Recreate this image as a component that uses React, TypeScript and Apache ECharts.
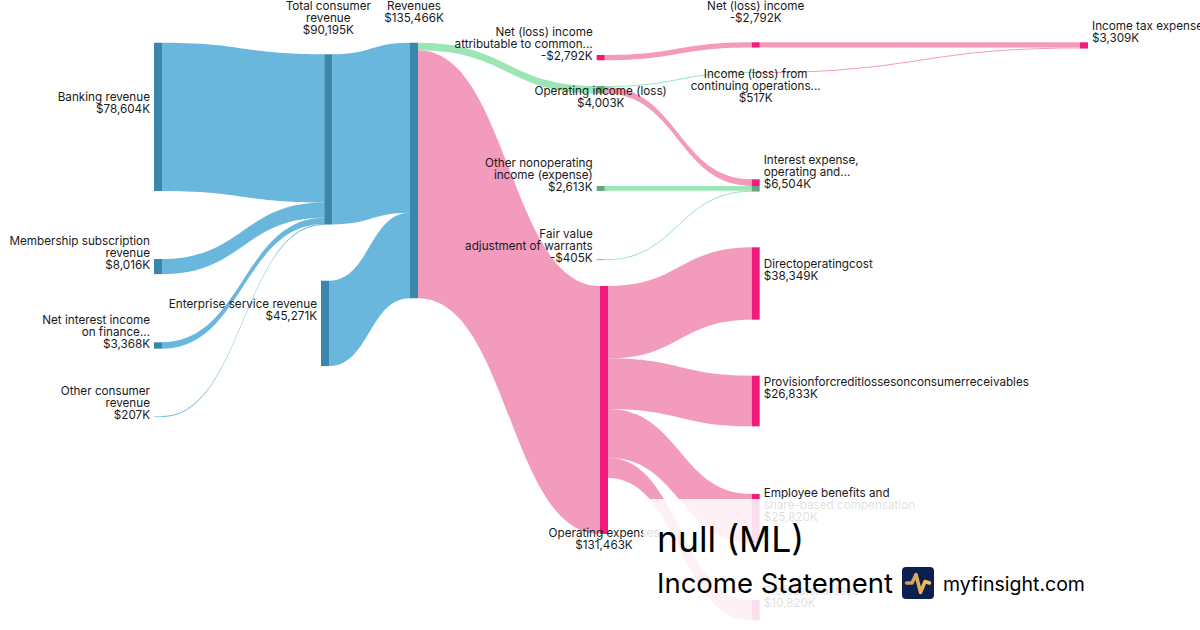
import React, { useEffect, useRef } from 'react';
import * as echarts from 'echarts';

// ---------- DATA ----------
const nodeNames = [
  'Banking revenue',
  'Membership subscription revenue',
  'Net interest income on finance receivables',
  'Other consumer revenue',
  'Total consumer revenue',
  'Enterprise service revenue',
  'Revenues',
  'Net (loss) income attributable to common stockholders',
  'Operating income (loss)',
  'Other nonoperating income (expense)',
  'Fair value adjustment of warrants',
  'Operating expenses',
  'Net (loss) income',
  'Income (loss) from continuing operations before taxes',
  'Interest expense, operating and nonoperating',
  'Directoperatingcost',
  'Provisionforcreditlossesonconsumerreceivables',
  'Employee benefits and share-based compensation',
  'Professional fees',
  'Income tax expense',
];

const nodeLabelLines = [
  'Banking revenue',
  'Membership subscription\nrevenue',
  'Net interest income\non finance...',
  'Other consumer\nrevenue',
  'Total consumer\nrevenue',
  'Enterprise service revenue',
  'Revenues',
  'Net (loss) income\nattributable to common...',
  'Operating income (loss)',
  'Other nonoperating\nincome (expense)',
  'Fair value\nadjustment of warrants',
  'Operating expenses',
  'Net (loss) income',
  'Income (loss) from\ncontinuing operations...',
  'Interest expense,\noperating and...',
  'Directoperatingcost',
  'Provisionforcreditlossesonconsumerreceivables',
  'Employee benefits and\nshare-based compensation',
  'Professional fees',
  'Income tax expense',
];

// reported values, $K
const nodeValuesK = [
  78604, 8016, 3368, 207, 90195, 45271, 135466, -2792, 4003, 2613, -405, 131463,
  -2792, 517, 6504, 38349, 26833, 25820, 10820, 3309,
];

const nodeDepths = [0, 0, 0, 0, 1, 1, 2, 3, 3, 3, 3, 3, 4, 4, 4, 4, 4, 4, 4, 5];

const linkSources = [
  'Banking revenue',
  'Membership subscription revenue',
  'Net interest income on finance receivables',
  'Other consumer revenue',
  'Total consumer revenue',
  'Enterprise service revenue',
  'Revenues',
  'Revenues',
  'Net (loss) income attributable to common stockholders',
  'Operating income (loss)',
  'Operating income (loss)',
  'Other nonoperating income (expense)',
  'Fair value adjustment of warrants',
  'Operating expenses',
  'Operating expenses',
  'Operating expenses',
  'Operating expenses',
  'Net (loss) income',
  'Income (loss) from continuing operations before taxes',
];
const linkTargets = [
  'Total consumer revenue',
  'Total consumer revenue',
  'Total consumer revenue',
  'Total consumer revenue',
  'Revenues',
  'Revenues',
  'Operating income (loss)',
  'Operating expenses',
  'Net (loss) income',
  'Income (loss) from continuing operations before taxes',
  'Interest expense, operating and nonoperating',
  'Interest expense, operating and nonoperating',
  'Interest expense, operating and nonoperating',
  'Directoperatingcost',
  'Provisionforcreditlossesonconsumerreceivables',
  'Employee benefits and share-based compensation',
  'Professional fees',
  'Income tax expense',
  'Income tax expense',
];
const linkValues = [
  78604, 8016, 3368, 207, 90195, 45271, 4003, 131463, 2792, 517, 3486, 2613, 405,
  38349, 26833, 25820, 10820, 2792, 517,
];
const linkKinds = [
  'rev', 'rev', 'rev', 'rev', 'rev', 'rev', 'profit', 'cost', 'cost', 'profit', 'cost',
  'profit', 'profit', 'cost', 'cost', 'cost', 'cost', 'cost', 'cost',
];

// ---------- STYLE / LAYOUT ----------
const SERIES_W = 1200;
const SERIES_H = 306.5;
const NODE_GAP = 10;

const nodeLeft = [
  154, 154, 154, 154, 324.3, 321, 410, 596.7, 596.7, 596.7, 596.7, 600, 751.7, 751.7,
  751.7, 751.7, 751.7, 751.7, 751.7, 1080,
];
const nodeTop = [
  42.7, 259, 342.3, 416, 54.3, 280.7, 42.7, 55, 86, 186, 259.3, 286, 42.3, 72, 179.3,
  247.3, 375.7, 494, 600, 42.3,
];
const nodeKinds = [
  'rev', 'rev', 'rev', 'rev', 'rev', 'rev', 'rev', 'cost', 'profit', 'profit', 'profit',
  'cost', 'cost', 'profit', 'split', 'cost', 'cost', 'cost', 'cost', 'cost',
];
const labelPositions = [
  'left', 'left', 'left', 'left', 'top', 'left', 'top', 'left', 'bottom', 'left', 'left',
  'bottom', 'top', 'bottom', 'right', 'right', 'right', 'right', 'right', 'right',
];
const labelOffsetY = [
  -13.5, -13.5, -13.5, -13.5, -13.5, -13.5, -13.5, -13.5, -13.5, -13.5, -13.5, -12,
  -13.5, -10, -13.5, -13.5, -13.5, -13.5, -13.5, -13.5,
];

const linkColors: Record<string, string> = {
  rev: '#69b7dc',
  cost: '#f39bbd',
  profit: '#9be6b4',
};
const nodeColorMap: Record<string, any> = {
  rev: '#3a87ad',
  cost: '#f21b7b',
  profit: '#62a97c',
  split: {
    type: 'linear',
    x: 0,
    y: 0,
    x2: 0,
    y2: 1,
    colorStops: [
      { offset: 0, color: '#f21b7b' },
      { offset: 0.536, color: '#f21b7b' },
      { offset: 0.536, color: '#62a97c' },
      { offset: 1, color: '#62a97c' },
    ],
  },
};

const fmtK = (v: number) =>
  (v < 0 ? '-' : '') + '$' + Math.abs(v).toLocaleString('en-US') + 'K';

const FONT = 'Inter, "Noto Sans", sans-serif';

export default function App() {
  const ref = useRef<HTMLDivElement>(null);

  useEffect(() => {
    if (!ref.current) return;
    const chart = echarts.init(ref.current, undefined, { renderer: 'svg' });

    const nodes = nodeNames.map((name, i) => ({
      name,
      depth: nodeDepths[i],
      localX: nodeLeft[i] / SERIES_W,
      localY: nodeTop[i] / SERIES_H,
      itemStyle: { color: nodeColorMap[nodeKinds[i]], borderWidth: 0 },
      label: {
        show: true,
        position: labelPositions[i],
        distance: labelPositions[i] === 'left' || labelPositions[i] === 'right' ? 4 : 5,
        offset: [0, labelOffsetY[i]],
        formatter: nodeLabelLines[i] + '\n' + fmtK(nodeValuesK[i]),
        fontFamily: FONT,
        fontSize: 11.7,
        lineHeight: 12,
        color: '#1a1a1a',
      },
    }));

    const links = linkSources.map((s, i) => ({
      source: s,
      target: linkTargets[i],
      value: linkValues[i],
      lineStyle: { color: linkColors[linkKinds[i]], opacity: 1, curveness: 0.5 },
    }));

    chart.setOption({
      animation: false,
      backgroundColor: '#ffffff',
      series: [
        {
          type: 'sankey',
          left: 0,
          top: 0,
          width: SERIES_W,
          height: SERIES_H,
          nodeWidth: 8,
          nodeGap: NODE_GAP,
          nodeAlign: 'left',
          layoutIterations: 0,
          draggable: false,
          emphasis: { disabled: true },
          data: nodes,
          links,
        },
      ],
      graphic: [
        {
          type: 'rect',
          z: 100,
          shape: { x: 643, y: 499, width: 560, height: 135 },
          style: { fill: 'rgba(255,255,255,0.86)' },
        },
        {
          type: 'text',
          z: 101,
          x: 657,
          y: 539,
          style: {
            text: 'null (ML)',
            font: '35.5px ' + FONT,
            fill: '#000000',
            textVerticalAlign: 'middle',
          },
        },
        {
          type: 'text',
          z: 101,
          x: 657,
          y: 583,
          style: {
            text: 'Income Statement',
            font: '27.5px ' + FONT,
            fill: '#000000',
            textVerticalAlign: 'middle',
          },
        },
        {
          type: 'rect',
          z: 101,
          shape: { x: 902, y: 567, width: 32, height: 32, r: 4 },
          style: { fill: '#0c1f50' },
        },
        {
          type: 'polyline',
          z: 102,
          shape: {
            points: [
              [906.5, 583],
              [912, 583],
              [916, 574.5],
              [920.5, 592.5],
              [925, 581.5],
              [929.5, 583],
            ],
          },
          style: {
            fill: null,
            stroke: new echarts.graphic.LinearGradient(0, 0, 1, 0, [
              { offset: 0, color: '#c8985f' },
              { offset: 1, color: '#f5c351' },
            ]),
            lineWidth: 3.5,
            lineCap: 'round',
            lineJoin: 'round',
          },
        },
        {
          type: 'text',
          z: 101,
          x: 943,
          y: 584,
          style: {
            text: 'myfinsight.com',
            font: '19.5px ' + FONT,
            fill: '#000000',
            textVerticalAlign: 'middle',
          },
        },
      ],
    });

    return () => chart.dispose();
  }, []);

  return (
    <div
      style={{ position: 'fixed', left: 0, top: 0, width: 1200, height: 630, background: '#fff' }}
    >
      <div ref={ref} style={{ width: 1200, height: 630 }} />
    </div>
  );
}
